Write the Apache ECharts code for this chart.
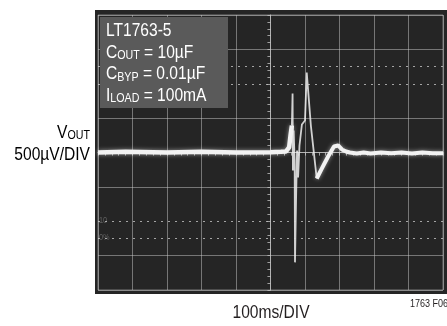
<!DOCTYPE html>
<html>
<head>
<meta charset="utf-8">
<script src="https://cdn.jsdelivr.net/npm/echarts@6/dist/echarts.min.js"></script>
<style>
  html, body { margin: 0; padding: 0; background: #fff; }
  #chart { width: 447px; height: 326px; }
</style>
</head>
<body>
<div id="chart"></div>
<script>
// time in ms relative to screen centre (100ms/DIV), VOUT deviation in µV (500µV/DIV)
const preTime = [-500, -420, -300, -200, -100, 0, 30, 45, 54, 58, 62];
const preVout = [0, 10, 0, 10, 0, 5, 10, 15, 73, 247, 392];

// fast load-step edges, drawn faint on the scope
const spikeTime = [62, 64, 65, 67, 70, 71, 74, 77, 80, 84, 91, 100, 105, 117, 134];
const spikeVout = [392, 857, -262, 320, -116, -1598, -697, 29, -363, 102, 407, 465, 1162, 392, -378];

const postTime = [134, 149, 167, 184, 196, 207, 219, 230, 250, 270, 290, 320, 350, 380, 410, 440, 470, 500];
const postVout = [-378, -232, -58, 87, 102, 44, 15, 0, -15, 0, -15, 0, -10, 0, -15, 0, -10, -10];

// 0% / 10% / 90% / 100% rise-time markers of the graticule
const dottedLevels = [1000, 1250, -1000, -1250];

const conditionLines = [
    '{m|LT1763-5}',
    '{m|C}{s|OUT}{m| = 10µF}',
    '{m|C}{s|BYP}{m| = 0.01µF}',
    '{m|I}{s|LOAD}{m| = 100mA}'
];
const yTitle = '{m|V}{s|OUT}\n{m|500µV/DIV}';
const xTitle = '100ms/DIV';
const figureId = '1763 F06';

// no narrow face installed: squeeze Liberation Sans like Arial Narrow
const font = "'Liberation Sans', Arial, sans-serif";
const squeeze = 0.82;
const gridColor = 'rgba(200,200,200,0.5)';
const traceColor = '#f2f2f2';

function pairs(xs, ys) {
    return xs.map((x, i) => [x, ys[i]]);
}

function centreAxis(inside, withSplit, dimRange, interval) {
    return {
        type: 'value',
        min: -dimRange,
        max: dimRange,
        interval: interval,
        axisLine: { show: true, onZero: true, lineStyle: { color: gridColor, width: 1 } },
        axisTick: { show: true, inside: inside, length: 3, lineStyle: { color: gridColor } },
        minorTick: { show: true, splitNumber: 5, length: 3, lineStyle: { color: gridColor } },
        axisLabel: { show: false },
        splitLine: { show: withSplit, lineStyle: { color: gridColor, width: 1 } }
    };
}

function richStyle(color, lineHeight) {
    return {
        m: { fontFamily: font, fontSize: 19, lineHeight: lineHeight, color: color, verticalAlign: 'bottom' },
        s: { fontFamily: font, fontSize: 13, lineHeight: 12, color: color, verticalAlign: 'bottom' }
    };
}

const chart = echarts.init(document.getElementById('chart'), null, { renderer: 'canvas' });

const yMain = centreAxis(false, true, 2000, 500);
// ±2 div lines are dotted on this graticule, drawn by markLine below
yMain.splitLine.lineStyle.color = [gridColor, gridColor, 'transparent', gridColor, gridColor,
    gridColor, 'transparent', gridColor, gridColor];

chart.setOption({
    animation: false,
    backgroundColor: '#ffffff',
    grid: {
        left: 98, top: 15, right: 4, bottom: 36,
        show: true, borderColor: gridColor, borderWidth: 1,
        backgroundColor: 'transparent'
    },
    xAxis: [centreAxis(false, true, 500, 100), centreAxis(true, false, 500, 100)],
    yAxis: [yMain, centreAxis(true, false, 2000, 500)],
    graphic: [
        { type: 'rect', z: -10, shape: { x: 95, y: 10, width: 352, height: 284 }, style: { fill: '#252525' } },
        { type: 'rect', z: 50, shape: { x: 100, y: 17, width: 128, height: 91 }, style: { fill: '#5a5a5a' } },
        {
            type: 'text', z: 51, x: 106, y: 19, scaleX: squeeze,
            style: { text: conditionLines.join('\n'), fill: '#ffffff', rich: richStyle('#ffffff', 21.5) }
        },
        {
            type: 'text', z: 51, x: 90, y: 120, scaleX: squeeze,
            style: { text: yTitle, align: 'right', rich: richStyle('#231f20', 22) }
        },
        {
            type: 'text', z: 51, x: 271, y: 313, scaleX: squeeze,
            style: { text: xTitle, fontFamily: font, fontSize: 19, fill: '#231f20', align: 'center', verticalAlign: 'middle' }
        },
        {
            type: 'text', z: 51, x: 410, y: 304, scaleX: squeeze,
            style: { text: figureId, fontFamily: font, fontSize: 11, fill: '#231f20', align: 'left', verticalAlign: 'middle' }
        },
        {
            type: 'text', z: 5, x: 99, y: 221, scaleX: squeeze,
            style: { text: '10', fontFamily: font, fontSize: 9, fill: 'rgba(200,200,200,0.35)', verticalAlign: 'middle' }
        },
        {
            type: 'text', z: 5, x: 99, y: 238, scaleX: squeeze,
            style: { text: '0%', fontFamily: font, fontSize: 9, fill: 'rgba(200,200,200,0.35)', verticalAlign: 'middle' }
        }
    ],
    series: [
        {
            type: 'line',
            data: pairs(preTime, preVout),
            showSymbol: false,
            lineStyle: { color: traceColor, width: 4.5, shadowBlur: 4, shadowColor: 'rgba(255,255,255,0.5)' },
            markLine: {
                silent: true,
                symbol: 'none',
                label: { show: false },
                lineStyle: { type: [2, 5], color: 'rgba(220,220,220,0.7)', width: 1 },
                data: dottedLevels.map(v => ({ yAxis: v }))
            }
        },
        {
            type: 'line',
            data: pairs(spikeTime, spikeVout),
            showSymbol: false,
            lineStyle: { color: 'rgba(240,240,240,0.85)', width: 1.8 }
        },
        {
            type: 'line',
            data: pairs(postTime, postVout),
            showSymbol: false,
            lineStyle: { color: traceColor, width: 4, shadowBlur: 4, shadowColor: 'rgba(255,255,255,0.5)' }
        }
    ]
});
</script>
</body>
</html>
